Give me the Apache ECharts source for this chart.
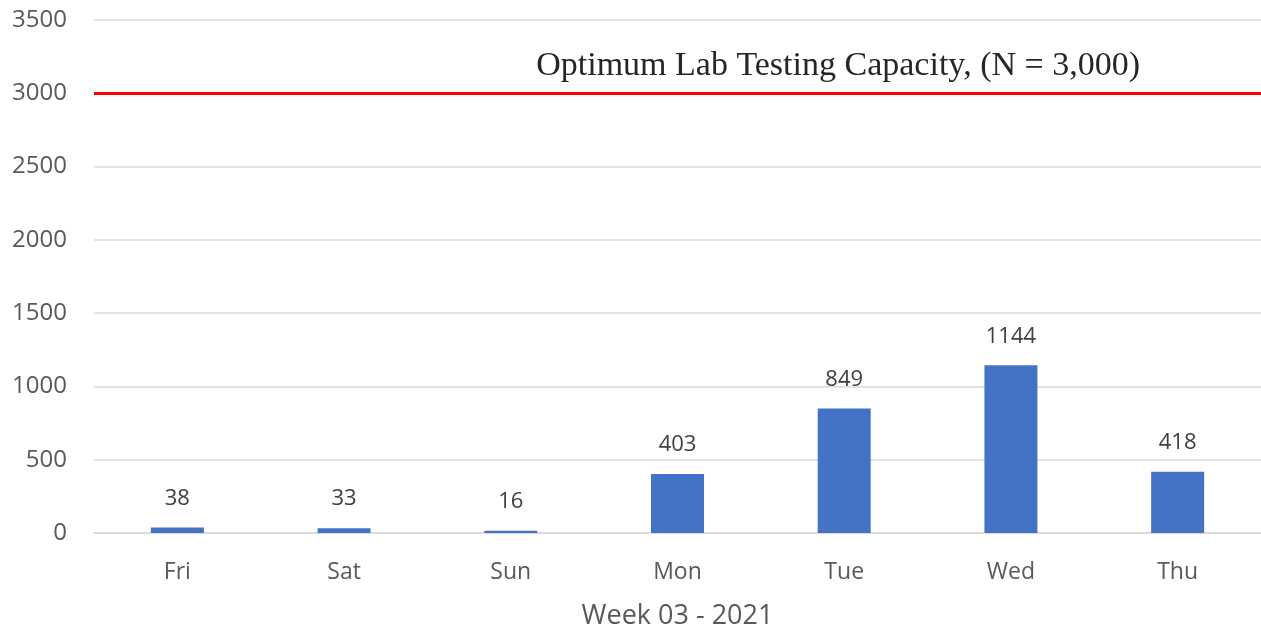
<!DOCTYPE html>
<html><head><meta charset="utf-8">
<script src="https://cdn.jsdelivr.net/npm/echarts@6/dist/echarts.min.js"></script>
<style>html,body{margin:0;padding:0;background:#fff}#c{width:1261px;height:631px}</style>
</head><body><div id="c"></div>
<script>
const categories = ['Fri', 'Sat', 'Sun', 'Mon', 'Tue', 'Wed', 'Thu'];
const testsPerDay = [38, 33, 16, 403, 849, 1144, 418];
const capacityValue = 3000;
const capacityLabel = 'Optimum Lab Testing Capacity, (N = 3,000)';
const xAxisTitle = 'Week 03 - 2021';
const yTicks = { min: 0, max: 3500, interval: 500 };

const chart = echarts.init(document.getElementById('c'));
chart.setOption({
  animation: false,
  grid: { left: 94, right: 0, top: 20, bottom: 98, containLabel: false, outerBoundsMode: 'none' },
  xAxis: {
    type: 'category',
    data: categories,
    name: xAxisTitle,
    nameLocation: 'middle',
    nameGap: 70,
    nameTextStyle: { fontFamily: 'Open Sans', fontSize: 27, color: '#595959' },
    axisLine: { lineStyle: { color: '#d9d9d9', width: 1.5 } },
    axisTick: { show: false },
    axisLabel: { fontFamily: 'Open Sans', fontSize: 23, color: '#595959', margin: 28 }
  },
  yAxis: {
    type: 'value',
    min: yTicks.min, max: yTicks.max, interval: yTicks.interval,
    axisLine: { show: false },
    axisTick: { show: false },
    splitLine: { lineStyle: { color: '#d9d9d9', width: 1.5 } },
    axisLabel: { fontFamily: 'Open Sans', fontSize: 24, color: '#595959', margin: 27, formatter: v => String(v) }
  },
  series: [{
    type: 'bar',
    data: testsPerDay,
    barWidth: 53,
    itemStyle: { color: '#4472c4' },
    label: { show: true, position: 'top', distance: 18, fontFamily: 'Open Sans', fontSize: 22, color: '#404040' },
    markLine: {
      silent: true,
      symbol: 'none',
      lineStyle: { color: '#ff0000', width: 3, type: 'solid' },
      label: {
        show: true,
        position: 'insideEndTop',
        distance: [121, 10],
        formatter: capacityLabel,
        fontFamily: 'Liberation Serif',
        fontSize: 34,
        color: '#262626'
      },
      data: [{ yAxis: capacityValue }]
    }
  }]
});
</script>
</body></html>
